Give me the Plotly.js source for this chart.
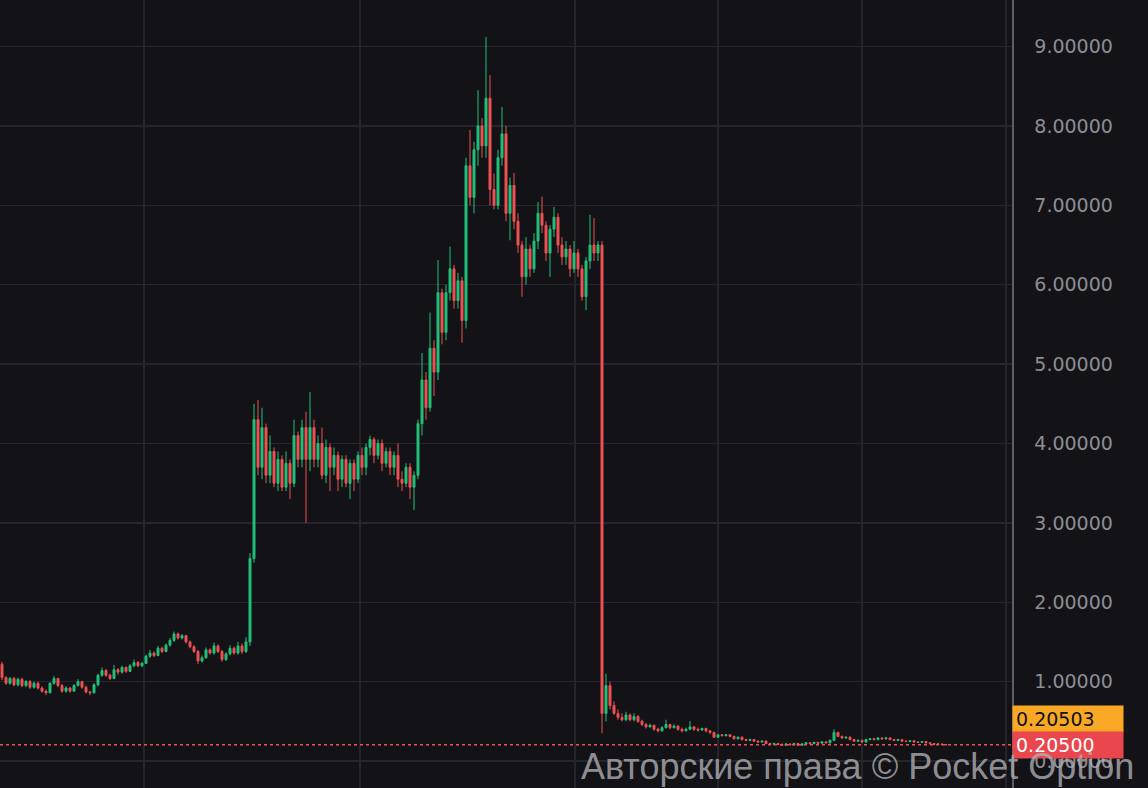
<!DOCTYPE html>
<html>
<head>
<meta charset="utf-8">
<script src="https://cdn.plot.ly/plotly-3.0.1.min.js"></script>
<style>
  html, body { margin: 0; padding: 0; background: #131317; }
  #chart { width: 1148px; height: 788px; }
</style>
</head>
<body>
<div id="chart"></div>
<script>
// OHLC values (one candle per entry)
const openPrices = [
  1.22, 1.05, 0.98, 1.04, 0.96, 1.03, 0.95, 1.00, 0.93, 0.98,
  0.92, 0.88, 0.86, 0.98, 1.04, 0.95, 0.88, 0.92, 0.88, 0.95,
  1.00, 0.93, 0.87, 0.86, 0.96, 1.08, 1.14, 1.08, 1.04, 1.15,
  1.12, 1.18, 1.13, 1.20, 1.24, 1.20, 1.23, 1.32, 1.36, 1.33,
  1.42, 1.38, 1.46, 1.52, 1.60, 1.55, 1.58, 1.50, 1.44, 1.38,
  1.26, 1.30, 1.40, 1.36, 1.45, 1.38, 1.28, 1.35, 1.42, 1.36,
  1.45, 1.38, 1.50, 2.55, 4.30, 3.70, 4.20, 3.60, 3.90, 3.50,
  3.80, 3.45, 3.75, 3.50, 4.10, 3.80, 4.20, 3.80, 4.20, 3.80,
  4.00, 3.60, 3.95, 3.70, 3.85, 3.55, 3.80, 3.50, 3.75, 3.55,
  3.85, 3.70, 3.95, 4.05, 3.85, 4.00, 3.75, 3.90, 3.70, 3.85,
  3.55, 3.50, 3.70, 3.45, 3.60, 4.25, 4.80, 4.45, 5.20, 4.90,
  5.90, 5.40, 5.90, 6.20, 5.80, 6.05, 5.55, 7.50, 7.10, 7.70,
  8.00, 7.75, 8.35, 7.20, 7.00, 7.60, 7.90, 6.90, 7.25, 6.80,
  6.50, 6.10, 6.45, 6.20, 6.55, 6.90, 6.75, 6.40, 6.70, 6.85,
  6.50, 6.35, 6.45, 6.20, 6.40, 6.20, 5.85, 6.30, 6.50, 6.40,
  6.50, 0.60, 0.95, 0.70, 0.60, 0.55, 0.52, 0.58, 0.52, 0.56,
  0.50, 0.46, 0.43, 0.45, 0.40, 0.38, 0.42, 0.46, 0.42, 0.44,
  0.40, 0.38, 0.40, 0.43, 0.40, 0.39, 0.41, 0.38, 0.36, 0.30,
  0.33, 0.32, 0.33, 0.31, 0.28, 0.30, 0.27, 0.26, 0.27, 0.25,
  0.24, 0.25, 0.22, 0.21, 0.22, 0.21, 0.20, 0.215, 0.205, 0.22,
  0.20, 0.215, 0.23, 0.22, 0.235, 0.225, 0.24, 0.23, 0.26, 0.36,
  0.31, 0.29, 0.30, 0.27, 0.25, 0.26, 0.24, 0.27, 0.28, 0.27,
  0.29, 0.28, 0.29, 0.27, 0.26, 0.27, 0.25, 0.245, 0.255, 0.24,
  0.235, 0.245, 0.23, 0.22, 0.21, 0.215, 0.207
];
const highPrices = [
  1.25, 1.07, 1.06, 1.06, 1.05, 1.05, 1.02, 1.02, 1.00, 1.00,
  0.94, 0.90, 0.99, 1.07, 1.05, 0.97, 0.94, 0.93, 0.97, 1.03,
  1.01, 0.95, 0.88, 0.98, 1.10, 1.18, 1.16, 1.10, 1.21, 1.17,
  1.20, 1.19, 1.22, 1.28, 1.26, 1.25, 1.34, 1.40, 1.38, 1.45,
  1.44, 1.48, 1.55, 1.63, 1.62, 1.60, 1.59, 1.52, 1.46, 1.40,
  1.33, 1.43, 1.42, 1.49, 1.47, 1.40, 1.37, 1.46, 1.44, 1.50,
  1.48, 1.56, 2.62, 4.50, 4.55, 4.45, 4.25, 4.10, 3.95, 3.90,
  3.85, 3.90, 3.80, 4.30, 4.15, 4.30, 4.40, 4.65, 4.30, 4.10,
  4.20, 4.05, 4.00, 3.95, 3.90, 3.85, 3.85, 3.80, 3.80, 3.90,
  3.95, 4.00, 4.10, 4.08, 4.05, 4.05, 3.95, 3.95, 3.90, 4.00,
  3.65, 3.75, 3.75, 3.65, 4.30, 5.14, 4.90, 5.65, 5.30, 6.31,
  5.95, 6.00, 6.48, 6.25, 6.15, 6.10, 7.60, 7.95, 7.80, 8.45,
  8.10, 9.12, 8.64, 7.40, 7.70, 8.24, 8.00, 7.35, 7.41, 6.90,
  6.55, 6.60, 6.50, 6.65, 7.04, 7.11, 6.80, 6.75, 6.98, 6.90,
  6.60, 6.55, 6.50, 6.55, 6.45, 6.25, 6.35, 6.88, 6.84, 6.55,
  6.55, 1.10, 1.00, 0.75, 0.65, 0.60, 0.62, 0.60, 0.60, 0.58,
  0.52, 0.48, 0.47, 0.46, 0.42, 0.44, 0.52, 0.47, 0.46, 0.45,
  0.42, 0.42, 0.50, 0.44, 0.42, 0.42, 0.42, 0.39, 0.37, 0.34,
  0.34, 0.34, 0.34, 0.32, 0.31, 0.31, 0.28, 0.28, 0.28, 0.26,
  0.26, 0.26, 0.23, 0.23, 0.23, 0.22, 0.22, 0.22, 0.23, 0.23,
  0.22, 0.24, 0.24, 0.24, 0.24, 0.25, 0.25, 0.27, 0.40, 0.37,
  0.32, 0.31, 0.31, 0.28, 0.27, 0.27, 0.28, 0.29, 0.29, 0.30,
  0.30, 0.30, 0.30, 0.28, 0.28, 0.28, 0.26, 0.26, 0.26, 0.25,
  0.25, 0.25, 0.235, 0.225, 0.22, 0.22, 0.21
];
const lowPrices = [
  1.02, 0.96, 0.96, 0.94, 0.94, 0.93, 0.93, 0.91, 0.91, 0.90,
  0.86, 0.83, 0.85, 0.96, 0.93, 0.86, 0.86, 0.86, 0.87, 0.94,
  0.91, 0.85, 0.83, 0.85, 0.94, 1.06, 1.06, 1.02, 1.03, 1.09,
  1.10, 1.11, 1.12, 1.18, 1.18, 1.18, 1.22, 1.30, 1.31, 1.32,
  1.36, 1.37, 1.44, 1.50, 1.53, 1.53, 1.48, 1.42, 1.36, 1.22,
  1.24, 1.29, 1.34, 1.34, 1.36, 1.25, 1.26, 1.33, 1.34, 1.34,
  1.35, 1.36, 1.45, 2.50, 3.60, 3.55, 3.50, 3.50, 3.45, 3.40,
  3.40, 3.40, 3.30, 3.45, 3.70, 3.70, 3.00, 3.65, 3.70, 3.70,
  3.55, 3.50, 3.40, 3.60, 3.40, 3.45, 3.45, 3.30, 3.40, 3.50,
  3.60, 3.60, 3.85, 3.75, 3.80, 3.65, 3.70, 3.60, 3.60, 3.45,
  3.40, 3.45, 3.30, 3.16, 3.55, 4.10, 4.30, 4.40, 4.60, 4.80,
  5.25, 5.30, 5.80, 5.70, 5.70, 5.27, 5.45, 7.00, 6.90, 7.50,
  7.60, 7.60, 7.00, 6.95, 6.95, 7.50, 6.80, 6.56, 6.70, 6.40,
  5.85, 6.00, 6.10, 6.15, 6.45, 6.65, 6.30, 6.10, 6.60, 6.40,
  6.25, 6.25, 6.10, 6.15, 6.10, 5.80, 5.68, 6.20, 6.30, 6.30,
  0.35, 0.50, 0.65, 0.58, 0.52, 0.50, 0.50, 0.50, 0.50, 0.48,
  0.44, 0.41, 0.42, 0.38, 0.36, 0.37, 0.41, 0.40, 0.41, 0.38,
  0.36, 0.37, 0.39, 0.38, 0.37, 0.38, 0.36, 0.34, 0.29, 0.29,
  0.31, 0.31, 0.30, 0.27, 0.27, 0.26, 0.25, 0.25, 0.24, 0.23,
  0.23, 0.21, 0.20, 0.20, 0.20, 0.19, 0.19, 0.20, 0.20, 0.19,
  0.19, 0.21, 0.21, 0.21, 0.22, 0.22, 0.22, 0.22, 0.25, 0.30,
  0.28, 0.28, 0.26, 0.24, 0.24, 0.23, 0.23, 0.26, 0.26, 0.26,
  0.27, 0.27, 0.26, 0.25, 0.25, 0.24, 0.24, 0.24, 0.23, 0.23,
  0.23, 0.22, 0.21, 0.20, 0.20, 0.20, 0.20
];
const closePrices = [
  1.05, 0.98, 1.04, 0.96, 1.03, 0.95, 1.00, 0.93, 0.98, 0.92,
  0.88, 0.86, 0.98, 1.04, 0.95, 0.88, 0.92, 0.88, 0.95, 1.00,
  0.93, 0.87, 0.86, 0.96, 1.08, 1.14, 1.08, 1.04, 1.15, 1.12,
  1.18, 1.13, 1.20, 1.24, 1.20, 1.23, 1.32, 1.36, 1.33, 1.42,
  1.38, 1.46, 1.52, 1.60, 1.55, 1.58, 1.50, 1.44, 1.38, 1.26,
  1.30, 1.40, 1.36, 1.45, 1.38, 1.28, 1.35, 1.42, 1.36, 1.45,
  1.38, 1.50, 2.55, 4.30, 3.70, 4.20, 3.60, 3.90, 3.50, 3.80,
  3.45, 3.75, 3.50, 4.10, 3.80, 4.20, 3.80, 4.20, 3.80, 4.00,
  3.60, 3.95, 3.70, 3.85, 3.55, 3.80, 3.50, 3.75, 3.55, 3.85,
  3.70, 3.95, 4.05, 3.85, 4.00, 3.75, 3.90, 3.70, 3.85, 3.55,
  3.50, 3.70, 3.45, 3.60, 4.25, 4.80, 4.45, 5.20, 4.90, 5.90,
  5.40, 5.90, 6.20, 5.80, 6.05, 5.55, 7.50, 7.10, 7.70, 8.00,
  7.75, 8.35, 7.20, 7.00, 7.60, 7.90, 6.90, 7.25, 6.80, 6.50,
  6.10, 6.45, 6.20, 6.55, 6.90, 6.75, 6.40, 6.70, 6.85, 6.50,
  6.35, 6.45, 6.20, 6.40, 6.20, 5.85, 6.30, 6.50, 6.40, 6.50,
  0.60, 0.95, 0.70, 0.60, 0.55, 0.52, 0.58, 0.52, 0.56, 0.50,
  0.46, 0.43, 0.45, 0.40, 0.38, 0.42, 0.46, 0.42, 0.44, 0.40,
  0.38, 0.40, 0.43, 0.40, 0.39, 0.41, 0.38, 0.36, 0.30, 0.33,
  0.32, 0.33, 0.31, 0.28, 0.30, 0.27, 0.26, 0.27, 0.25, 0.24,
  0.25, 0.22, 0.21, 0.22, 0.21, 0.20, 0.215, 0.205, 0.22, 0.20,
  0.215, 0.23, 0.22, 0.235, 0.225, 0.24, 0.23, 0.26, 0.36, 0.31,
  0.29, 0.30, 0.27, 0.25, 0.26, 0.24, 0.27, 0.28, 0.27, 0.29,
  0.28, 0.29, 0.27, 0.26, 0.27, 0.25, 0.245, 0.255, 0.24, 0.235,
  0.245, 0.23, 0.22, 0.21, 0.215, 0.207, 0.205
];
const yTickValues = [0, 1, 2, 3, 4, 5, 6, 7, 8, 9];
const askPrice = 0.20503;
const bidPrice = 0.20500;
const askLabel = "0.20503";
const bidLabel = "0.20500";
const watermarkText = "Авторские права © Pocket Option";

const candleIndex = closePrices.map((_, i) => i);
const GREEN = '#22c17b';
const RED = '#ee5151';
const BG = '#131317';
const GRID = '#25252b';

const trace = {
  type: 'candlestick',
  x: candleIndex,
  open: openPrices,
  high: highPrices,
  low: lowPrices,
  close: closePrices,
  increasing: { line: { color: GREEN, width: 1 }, fillcolor: GREEN },
  decreasing: { line: { color: RED, width: 1 }, fillcolor: RED },
  whiskerwidth: 0,
  hoverinfo: 'skip',
  showlegend: false
};

const layout = {
  width: 1148,
  height: 788,
  margin: { l: 0, r: 136, t: 0, b: 0, pad: 0 },
  paper_bgcolor: BG,
  plot_bgcolor: BG,
  showlegend: false,
  xaxis: {
    range: [-0.5, 252.5],
    rangeslider: { visible: false },
    showticklabels: false,
    ticks: '',
    tickmode: 'array',
    tickvals: [35.5, 89.5, 143.25, 179, 215, 251],
    showgrid: true,
    gridcolor: GRID,
    gridwidth: 1.5,
    zeroline: false,
    showline: false,
    fixedrange: true
  },
  yaxis: {
    side: 'right',
    range: [-0.340, 9.587],
    tickmode: 'array',
    tickvals: yTickValues,
    tickformat: '.5f',
    showgrid: true,
    gridcolor: GRID,
    gridwidth: 1.5,
    zeroline: false,
    showline: true,
    linecolor: '#5c5c63',
    linewidth: 1.5,
    ticks: 'outside',
    ticklen: 17,
    tickcolor: 'rgba(0,0,0,0)',
    tickfont: { family: 'DejaVu Sans, sans-serif', size: 19, color: '#8d8d93' },
    fixedrange: true
  },
  shapes: [
    {
      type: 'line', xref: 'paper', yref: 'y',
      x0: 0, x1: 1, y0: bidPrice, y1: bidPrice,
      line: { color: RED, width: 1.5, dash: 'dot' }
    }
  ],
  annotations: [
    {
      xref: 'paper', yref: 'y', x: 1, y: bidPrice,
      xanchor: 'left', yanchor: 'middle', yshift: 26,
      text: askLabel, showarrow: false, align: 'left',
      width: 104, height: 20, borderpad: 3,
      bgcolor: '#f9a825',
      font: { family: 'DejaVu Sans, sans-serif', size: 19, color: '#111111' }
    },
    {
      xref: 'paper', yref: 'y', x: 1, y: bidPrice,
      xanchor: 'left', yanchor: 'middle', yshift: 0,
      text: bidLabel, showarrow: false, align: 'left',
      width: 104, height: 20, borderpad: 3,
      bgcolor: '#e9474d',
      font: { family: 'DejaVu Sans, sans-serif', size: 19, color: '#ffffff' }
    },
    {
      xref: 'paper', yref: 'paper', x: 1136 / 1012, y: 0,
      xanchor: 'right', yanchor: 'bottom', yshift: -1,
      text: watermarkText, showarrow: false,
      font: { family: 'Liberation Sans, Arial, sans-serif', size: 36, color: 'rgba(175,175,180,0.8)' }
    }
  ]
};

Plotly.newPlot('chart', [trace], layout, { displayModeBar: false, staticPlot: true });
</script>
</body>
</html>
